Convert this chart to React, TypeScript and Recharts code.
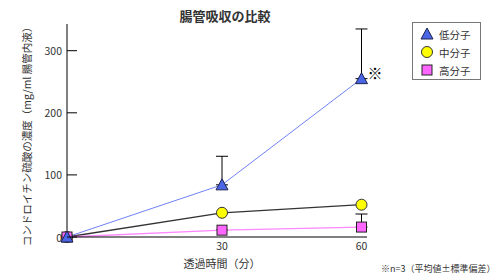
import React from 'react';
import { LineChart, Line, XAxis, YAxis, ErrorBar } from 'recharts';

// ---- data ----
const times = [0, 30, 60];
const lowValues = [0, 84, 255];
const lowErrors = [0, 46, 80];
const midValues = [0, 39, 52];
const highValues = [0, 11, 16];
const highErrors = [0, 0, 21];
const yTicks = [0, 100, 200, 300];
const xTicks = [30, 60];
const seriesNames = ['低分子', '中分子', '高分子'];
const titleText = '腸管吸収の比較';
const yLabelText = 'コンドロイチン硫酸の濃度（mg/ml 腸管内液）';
const xLabelText = '透過時間（分）';
const noteText = '※n=3（平均値±標準偏差）';

const data = times.map((t, i) => ({
  t,
  low: lowValues[i],
  lowErr: [0, lowErrors[i]],
  mid: midValues[i],
  high: highValues[i],
  highErr: [0, highErrors[i]],
}));

const FONT = '"Noto Sans CJK JP", "Noto Sans", sans-serif';
const TEXT = '#333';

// piecewise x scale (the source chart spaces 0/30/60 unevenly)
const X_KNOTS = [0, 30, 60, 61];
const X_FRACS = [0, 155 / 300, 294.5 / 300, 1];
function makeXScale(): any {
  let dom: number[] = [0, 61];
  let rng: number[] = [0, 1];
  const frac = (v: number) => {
    let k = 0;
    while (k < X_KNOTS.length - 2 && v > X_KNOTS[k + 1]) k++;
    const a = X_KNOTS[k], b = X_KNOTS[k + 1];
    return X_FRACS[k] + ((v - a) / (b - a)) * (X_FRACS[k + 1] - X_FRACS[k]);
  };
  const s: any = (v: number) => rng[0] + frac(Number(v)) * (rng[1] - rng[0]);
  s.domain = (d?: number[]) => {
    if (d === undefined) return dom.slice();
    dom = d.slice();
    return s;
  };
  s.range = (r?: number[]) => {
    if (r === undefined) return rng.slice();
    rng = r.slice();
    return s;
  };
  s.copy = () => makeXScale().domain(dom).range(rng);
  s.ticks = () => xTicks.slice();
  s.tickFormat = () => (v: number) => String(v);
  s.nice = () => s;
  s.clamp = () => s;
  s.invert = (p: number) => {
    const f = (p - rng[0]) / (rng[1] - rng[0]);
    let k = 0;
    while (k < X_FRACS.length - 2 && f > X_FRACS[k + 1]) k++;
    return X_KNOTS[k] + ((f - X_FRACS[k]) / (X_FRACS[k + 1] - X_FRACS[k])) * (X_KNOTS[k + 1] - X_KNOTS[k]);
  };
  return s;
}
const xScale = makeXScale();

// ---- markers ----
const Tri = ({ cx, cy }: { cx: number; cy: number }) => (
  <polygon
    points={`${cx},${cy - 6} ${cx - 6},${cy + 5} ${cx + 6},${cy + 5}`}
    fill="#4a66e6"
    stroke="#1e2250"
    strokeWidth={1}
  />
);
const Circ = ({ cx, cy }: { cx: number; cy: number }) => (
  <circle cx={cx} cy={cy} r={5.5} fill="#ffff00" stroke="#333" strokeWidth={1} />
);
const Sq = ({ cx, cy }: { cx: number; cy: number }) => (
  <rect x={cx - 5} y={cy - 5} width={10} height={10} fill="#ff66ff" stroke="#222" strokeWidth={1} />
);

const YTick = (props: any) => {
  const { x, y, payload } = props;
  return (
    <g>
      <line x1={x + 5} x2={x + 15} y1={y} y2={y} stroke="#000" strokeWidth={1} />
      <text x={x} y={y} textAnchor="end" dominantBaseline="central" fontSize={10.5} fill={TEXT} fontFamily={FONT}>
        {payload.value}
      </text>
    </g>
  );
};

export default function App() {
  return (
    <div style={{ position: 'absolute', left: 0, top: 0, width: 500, height: 280, background: '#fff' }}>
      <LineChart width={500} height={280} data={data} margin={{ top: 24, right: 133, bottom: 13, left: 0 }}>
        <XAxis
          dataKey="t"
          type="number"
          domain={[0, 61]}
          scale={xScale}
          ticks={xTicks}
          interval={0}
          tickLine={false}
          tickSize={0}
          tickMargin={6}
          height={30}
          axisLine={{ stroke: '#000', strokeWidth: 1 }}
          tick={{ fontSize: 10.5, fill: TEXT, fontFamily: FONT }}
        />
        <YAxis
          type="number"
          domain={[0, 343]}
          ticks={yTicks}
          interval={0}
          width={67}
          tickLine={false}
          tickSize={0}
          tickMargin={5}
          axisLine={{ stroke: '#000', strokeWidth: 1 }}
          tick={<YTick />}
        />
        <Line
          dataKey="mid"
          name={seriesNames[1]}
          type="linear"
          stroke="#333"
          strokeWidth={1.3}
          isAnimationActive={false}
          dot={(p: any) => <Circ key={`m${p.index}`} cx={p.cx} cy={p.cy} />}
        />
        <Line
          dataKey="high"
          name={seriesNames[2]}
          type="linear"
          stroke="#ff88ff"
          strokeWidth={1.3}
          isAnimationActive={false}
          dot={(p: any) => <Sq key={`h${p.index}`} cx={p.cx} cy={p.cy} />}
        >
          <ErrorBar dataKey="highErr" width={6} stroke="#000" strokeWidth={1} direction="y" isAnimationActive={false} />
        </Line>
        <Line
          dataKey="low"
          name={seriesNames[0]}
          type="linear"
          stroke="#7082f5"
          strokeWidth={1}
          isAnimationActive={false}
          dot={(p: any) => <Tri key={`l${p.index}`} cx={p.cx} cy={p.cy} />}
        >
          <ErrorBar dataKey="lowErr" width={6} stroke="#000" strokeWidth={1} direction="y" isAnimationActive={false} />
        </Line>
      </LineChart>
      <svg width={500} height={280} style={{ position: 'absolute', left: 0, top: 0, pointerEvents: 'none' }}>
        <text x={225} y={15} textAnchor="middle" dominantBaseline="central" fontSize={13} fontWeight="bold" fill={TEXT} fontFamily={FONT}>
          {titleText}
        </text>
        <text
          x={26}
          y={134}
          transform="rotate(-90 26 134)"
          textAnchor="middle"
          dominantBaseline="central"
          fontSize={10.5}
          fill={TEXT}
          fontFamily={FONT}
        >
          {yLabelText}
        </text>
        <text x={222} y={263} textAnchor="middle" dominantBaseline="central" fontSize={11} fill={TEXT} fontFamily={FONT}>
          {xLabelText}
        </text>
        <text x={381} y={268} textAnchor="start" dominantBaseline="central" fontSize={9} fill={TEXT} fontFamily={FONT}>
          {noteText}
        </text>
        <text x={375} y={72} textAnchor="middle" dominantBaseline="central" fontSize={15} fill="#000" fontFamily={FONT}>
          ※
        </text>
        <rect x={412.5} y={22.5} width={68} height={57} fill="#fff" stroke="#777" strokeWidth={1} />
        <Tri cx={427} cy={34} />
        <Circ cx={427} cy={52} />
        <Sq cx={427} cy={70} />
        {seriesNames.map((n, i) => (
          <text key={n} x={439} y={34 + i * 18} dominantBaseline="central" fontSize={10.5} fill={TEXT} fontFamily={FONT}>
            {n}
          </text>
        ))}
      </svg>
    </div>
  );
}
